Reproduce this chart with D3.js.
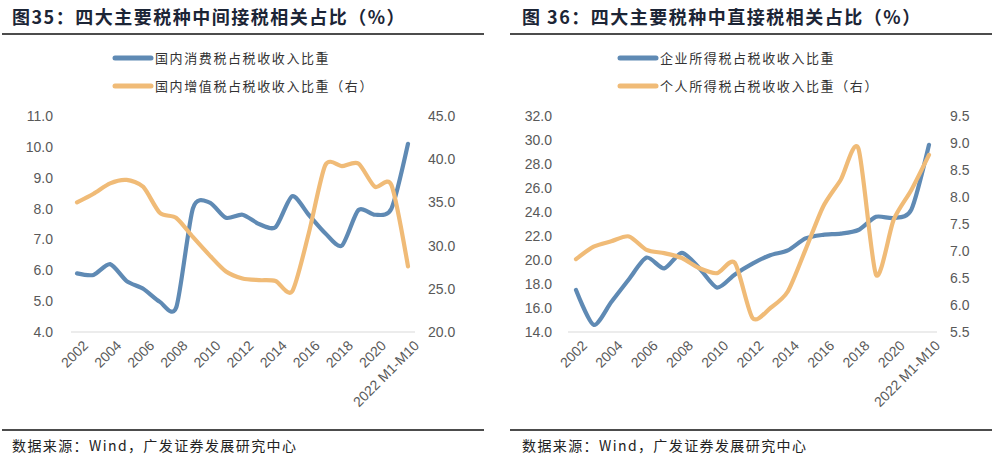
<!DOCTYPE html>
<html>
<head>
<meta charset="utf-8">
<script src="https://cdn.jsdelivr.net/npm/d3@7"></script>
<style>
    body { margin: 0; background: #fff; }
    svg { display: block; }
    .title { font-family: "Noto Sans CJK SC", sans-serif; font-weight: 700; font-size: 18px; letter-spacing: 1.5px; fill: #1c2536; }
    .legend text { font-family: "Noto Sans CJK SC", sans-serif; font-size: 13px; letter-spacing: 1.6px; fill: #333; }
    .axis text { font-family: "Liberation Sans", Arial, sans-serif; font-size: 14px; fill: #595959; }
    .source { font-family: "Noto Sans CJK SC", sans-serif; font-size: 14px; letter-spacing: 1.4px; fill: #222; }
</style>
</head>
<body>
<div id="chart"></div>
<script>
// categories (x axis)
let years = ["2002", "2003", "2004", "2005", "2006", "2007", "2008", "2009", "2010", "2011",
    "2012", "2013", "2014", "2015", "2016", "2017", "2018", "2019", "2020", "2021", "2022 M1-M10"];
let yearLabels = ["2002", "2004", "2006", "2008", "2010", "2012", "2014", "2016", "2018", "2020", "2022 M1-M10"];

// 图35: indirect taxes
let consumptionTax = [5.9, 5.85, 6.2, 5.65, 5.4, 4.98, 4.8, 8.0, 8.2, 7.7,
    7.8, 7.5, 7.4, 8.4, 7.8, 7.2, 6.8, 7.95, 7.8, 8.0, 10.1];
let vatTax = [35.0, 36.0, 37.2, 37.6, 36.8, 33.8, 33.2, 31.0, 28.9, 27.0,
    26.2, 26.0, 25.9, 24.7, 31.4, 39.3, 39.2, 39.5, 36.8, 37.0, 27.6];
let leftTicks1 = [4, 5, 6, 7, 8, 9, 10, 11];
let rightTicks1 = [20, 25, 30, 35, 40, 45];

// 图36: direct taxes
let corporateTax = [17.5, 14.6, 16.5, 18.4, 20.2, 19.3, 20.6, 19.3, 17.7, 18.8,
    19.7, 20.4, 20.8, 21.8, 22.1, 22.2, 22.5, 23.6, 23.5, 24.2, 29.6];
let personalTax = [6.85, 7.08, 7.18, 7.27, 7.02, 6.96, 6.87, 6.68, 6.59, 6.78,
    5.76, 5.94, 6.25, 7.02, 7.82, 8.32, 8.9, 6.56, 7.58, 8.13, 8.78];
let leftTicks2 = [14, 16, 18, 20, 22, 24, 26, 28, 30, 32];
let rightTicks2 = [5.5, 6.0, 6.5, 7.0, 7.5, 8.0, 8.5, 9.0, 9.5];

let blue = "#5f8ab4";
let orange = "#f0bb77";

let svg = d3.select("#chart").append("svg")
    .attr("width", 993)
    .attr("height", 469);

function drawPanel(p) {
    let g = svg.append("g");

    // title + rules
    g.append("text").attr("class", "title")
        .attr("x", p.titleX).attr("y", 24)
        .text(p.title);
    g.append("line")
        .attr("x1", p.ruleX1).attr("x2", p.ruleX2)
        .attr("y1", 34).attr("y2", 34)
        .attr("stroke", "#111").attr("stroke-width", 1.3);
    g.append("line")
        .attr("x1", p.ruleX1).attr("x2", p.ruleX2)
        .attr("y1", 430).attr("y2", 430)
        .attr("stroke", "#111").attr("stroke-width", 1.3);
    g.append("text").attr("class", "source")
        .attr("x", p.titleX).attr("y", 451)
        .text("数据来源：Wind，广发证券发展研究中心");

    // scales
    let x = d3.scalePoint().domain(years).range([p.x0, p.x1]);
    let yL = d3.scaleLinear().domain(d3.extent(p.leftTicks)).range([332, 116]);
    let yR = d3.scaleLinear().domain(d3.extent(p.rightTicks)).range([332, 116]);

    // baseline grid
    g.append("line")
        .attr("x1", p.gx0).attr("x2", p.gx1)
        .attr("y1", yL(p.leftTicks[0])).attr("y2", yL(p.leftTicks[0]))
        .attr("stroke", "#d9d9d9").attr("stroke-width", 1);

    // axes
    g.append("g").attr("class", "axis")
        .attr("transform", `translate(${p.gx0}, 0)`)
        .call(d3.axisLeft(yL).tickValues(p.leftTicks).tickFormat(d3.format(".1f")).tickSize(0).tickPadding(p.padL))
        .call(a => a.select(".domain").remove());
    g.append("g").attr("class", "axis")
        .attr("transform", `translate(${p.gx1}, 0)`)
        .call(d3.axisRight(yR).tickValues(p.rightTicks).tickFormat(d3.format(".1f")).tickSize(0).tickPadding(13))
        .call(a => a.select(".domain").remove());

    let xAxis = g.append("g").attr("class", "axis")
        .attr("transform", "translate(0, 332)")
        .call(d3.axisBottom(x).tickValues(years.filter(d => yearLabels.includes(d))).tickSize(0).tickFormat(d => d))
        .call(a => a.select(".domain").remove());
    xAxis.selectAll("text")
        .attr("text-anchor", "end")
        .attr("dy", "0.35em")
        .attr("transform", "translate(6, 9) rotate(-45)");

    // smoothed lines, like the spreadsheet's smoothing
    let curve = d3.curveCardinal.tension(0.25);
    let lineL = d3.line().x((d, i) => x(years[i])).y(d => yL(d)).curve(curve);
    let lineR = d3.line().x((d, i) => x(years[i])).y(d => yR(d)).curve(curve);

    g.append("path").datum(p.leftData)
        .attr("d", lineL).attr("fill", "none")
        .attr("stroke", blue).attr("stroke-width", 4.2).attr("stroke-linecap", "round");
    g.append("path").datum(p.rightData)
        .attr("d", lineR).attr("fill", "none")
        .attr("stroke", orange).attr("stroke-width", 4.2).attr("stroke-linecap", "round");

    // legend
    let legend = g.append("g").attr("class", "legend");
    [[p.leftName, blue, 58], [p.rightName, orange, 86]].forEach(function (d) {
        legend.append("line")
            .attr("x1", p.legX + 2).attr("x2", p.legX + 38)
            .attr("y1", d[2]).attr("y2", d[2])
            .attr("stroke", d[1]).attr("stroke-width", 5).attr("stroke-linecap", "round");
        legend.append("text")
            .attr("x", p.legX + 42).attr("y", d[2] + 4.5)
            .text(d[0]);
    });
}

drawPanel({
    titleX: 12, ruleX1: 2, ruleX2: 484,
    title: "图35：四大主要税种中间接税相关占比（%）",
    x0: 77, x1: 408, gx0: 71, gx1: 415, padL: 18,
    leftTicks: leftTicks1, rightTicks: rightTicks1,
    leftData: consumptionTax, rightData: vatTax,
    leftName: "国内消费税占税收收入比重",
    rightName: "国内增值税占税收收入比重（右）",
    legX: 113
});

drawPanel({
    titleX: 522, ruleX1: 510, ruleX2: 992,
    title: "图 36：四大主要税种中直接税相关占比（%）",
    x0: 576, x1: 929, gx0: 568, gx1: 937, padL: 16,
    leftTicks: leftTicks2, rightTicks: rightTicks2,
    leftData: corporateTax, rightData: personalTax,
    leftName: "企业所得税占税收收入比重",
    rightName: "个人所得税占税收收入比重（右）",
    legX: 618
});
</script>
</body>
</html>
